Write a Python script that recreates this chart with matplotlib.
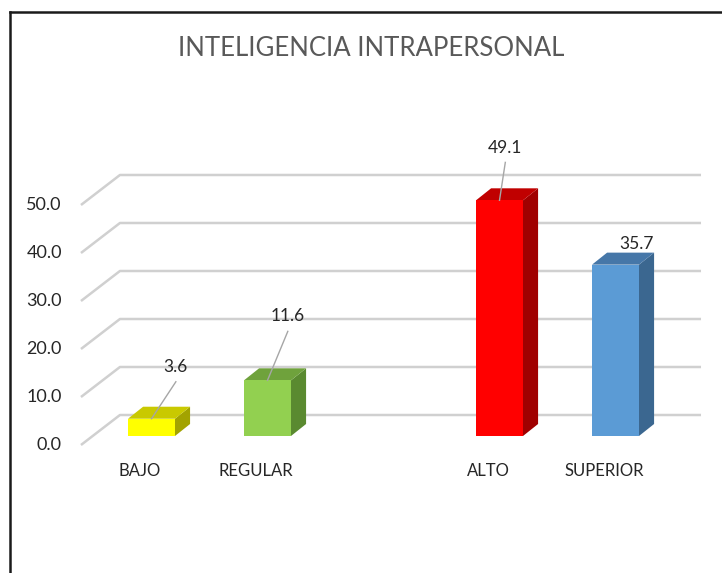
import matplotlib
matplotlib.use("Agg")
import matplotlib.pyplot as plt
from matplotlib.patches import Polygon, Rectangle
from matplotlib.lines import Line2D

# data
categories = ["BAJO", "REGULAR", "", "ALTO", "SUPERIOR"]
values = [3.6, 11.6, None, 49.1, 35.7]
value_labels = ["3.6", "11.6", "", "49.1", "35.7"]
y_ticks = [0, 10, 20, 30, 40, 50]
title = "INTELIGENCIA INTRAPERSONAL"

# styles (front, top, side)
colors = [("#FFFF00", "#C9C900", "#A3A300"),
          ("#92D050", "#6FA23C", "#5A8A30"),
          None,
          ("#FF0000", "#C00000", "#A00000"),
          ("#5B9BD5", "#4677A8", "#3B6790")]
# manual label offsets (dx, dy of text; leader start) like in the original sheet
label_offsets = [(0.21, 10.8, 7.7), (0.175, 13.3, 10.2), None, (0.05, 10.8, 7.9), (0.185, 4.2, None)]

bar_w = 0.405
depth_x, depth_y = 0.13, 2.5          # bar depth in data units
floor_front, floor_back = -1.875, 4.375
grid_left_front, grid_left_back, grid_right = -0.608, -0.272, 4.737

plt.rcParams['font.family'] = ['Lato', 'DejaVu Sans']
fig = plt.figure(figsize=(7.22, 5.73), dpi=100)
ax = fig.add_axes([0, 0, 1, 1])
ax.set_xlim(-1.306, 4.918)
ax.set_ylim(-28.54, 90.83)
ax.axis("off")

# slanted gridlines (floor + walls)
for g in y_ticks:
    ax.plot([grid_left_front, grid_left_back, grid_right],
            [g + floor_front, g + floor_back, g + floor_back],
            color="#D0D0D0", lw=1.8, solid_capstyle="butt", zorder=1)
    ax.text(grid_left_front - 0.165, g + floor_front, f"{g:.1f}",
            ha="right", va="center", fontsize=13, color="#262626")

# 3D bars
for i, (cat, v) in enumerate(zip(categories, values)):
    if cat:
        ax.text(i - 0.1, -7.3, cat, ha="center", va="center", fontsize=12, color="#262626")
    if v is None:
        continue
    front, top, side = colors[i]
    x0, x1 = i - bar_w / 2, i + bar_w / 2
    ax.add_patch(Polygon([(x1, 0), (x1 + depth_x, depth_y), (x1 + depth_x, v + depth_y), (x1, v)],
                         closed=True, facecolor=side, edgecolor="none", zorder=3))
    ax.add_patch(Polygon([(x0, v), (x1, v), (x1 + depth_x, v + depth_y), (x0 + depth_x, v + depth_y)],
                         closed=True, facecolor=top, edgecolor="none", zorder=3))
    ax.add_patch(Rectangle((x0, 0), bar_w, v, facecolor=front, edgecolor="none", zorder=4))

    tx, ty, lead = label_offsets[i]
    ax.text(i + tx, v + ty, value_labels[i], ha="center", va="center",
            fontsize=12.5, color="#262626", zorder=6)
    if lead is not None:
        ax.plot([i + tx, i], [v + lead, v], color="#A6A6A6", lw=1, zorder=5)

fig.text(0.514, 0.916, title, ha="center", va="center", fontsize=18.5,
         color="#595959")

# outer frame (left and top only visible)
fig.add_artist(Line2D([0.0145, 0.0145], [0, 0.979], color="#1a1a1a", lw=1.8))
fig.add_artist(Line2D([0.0145, 1.0], [0.979, 0.979], color="#1a1a1a", lw=1.8))

fig.savefig("out.png", dpi=100)
